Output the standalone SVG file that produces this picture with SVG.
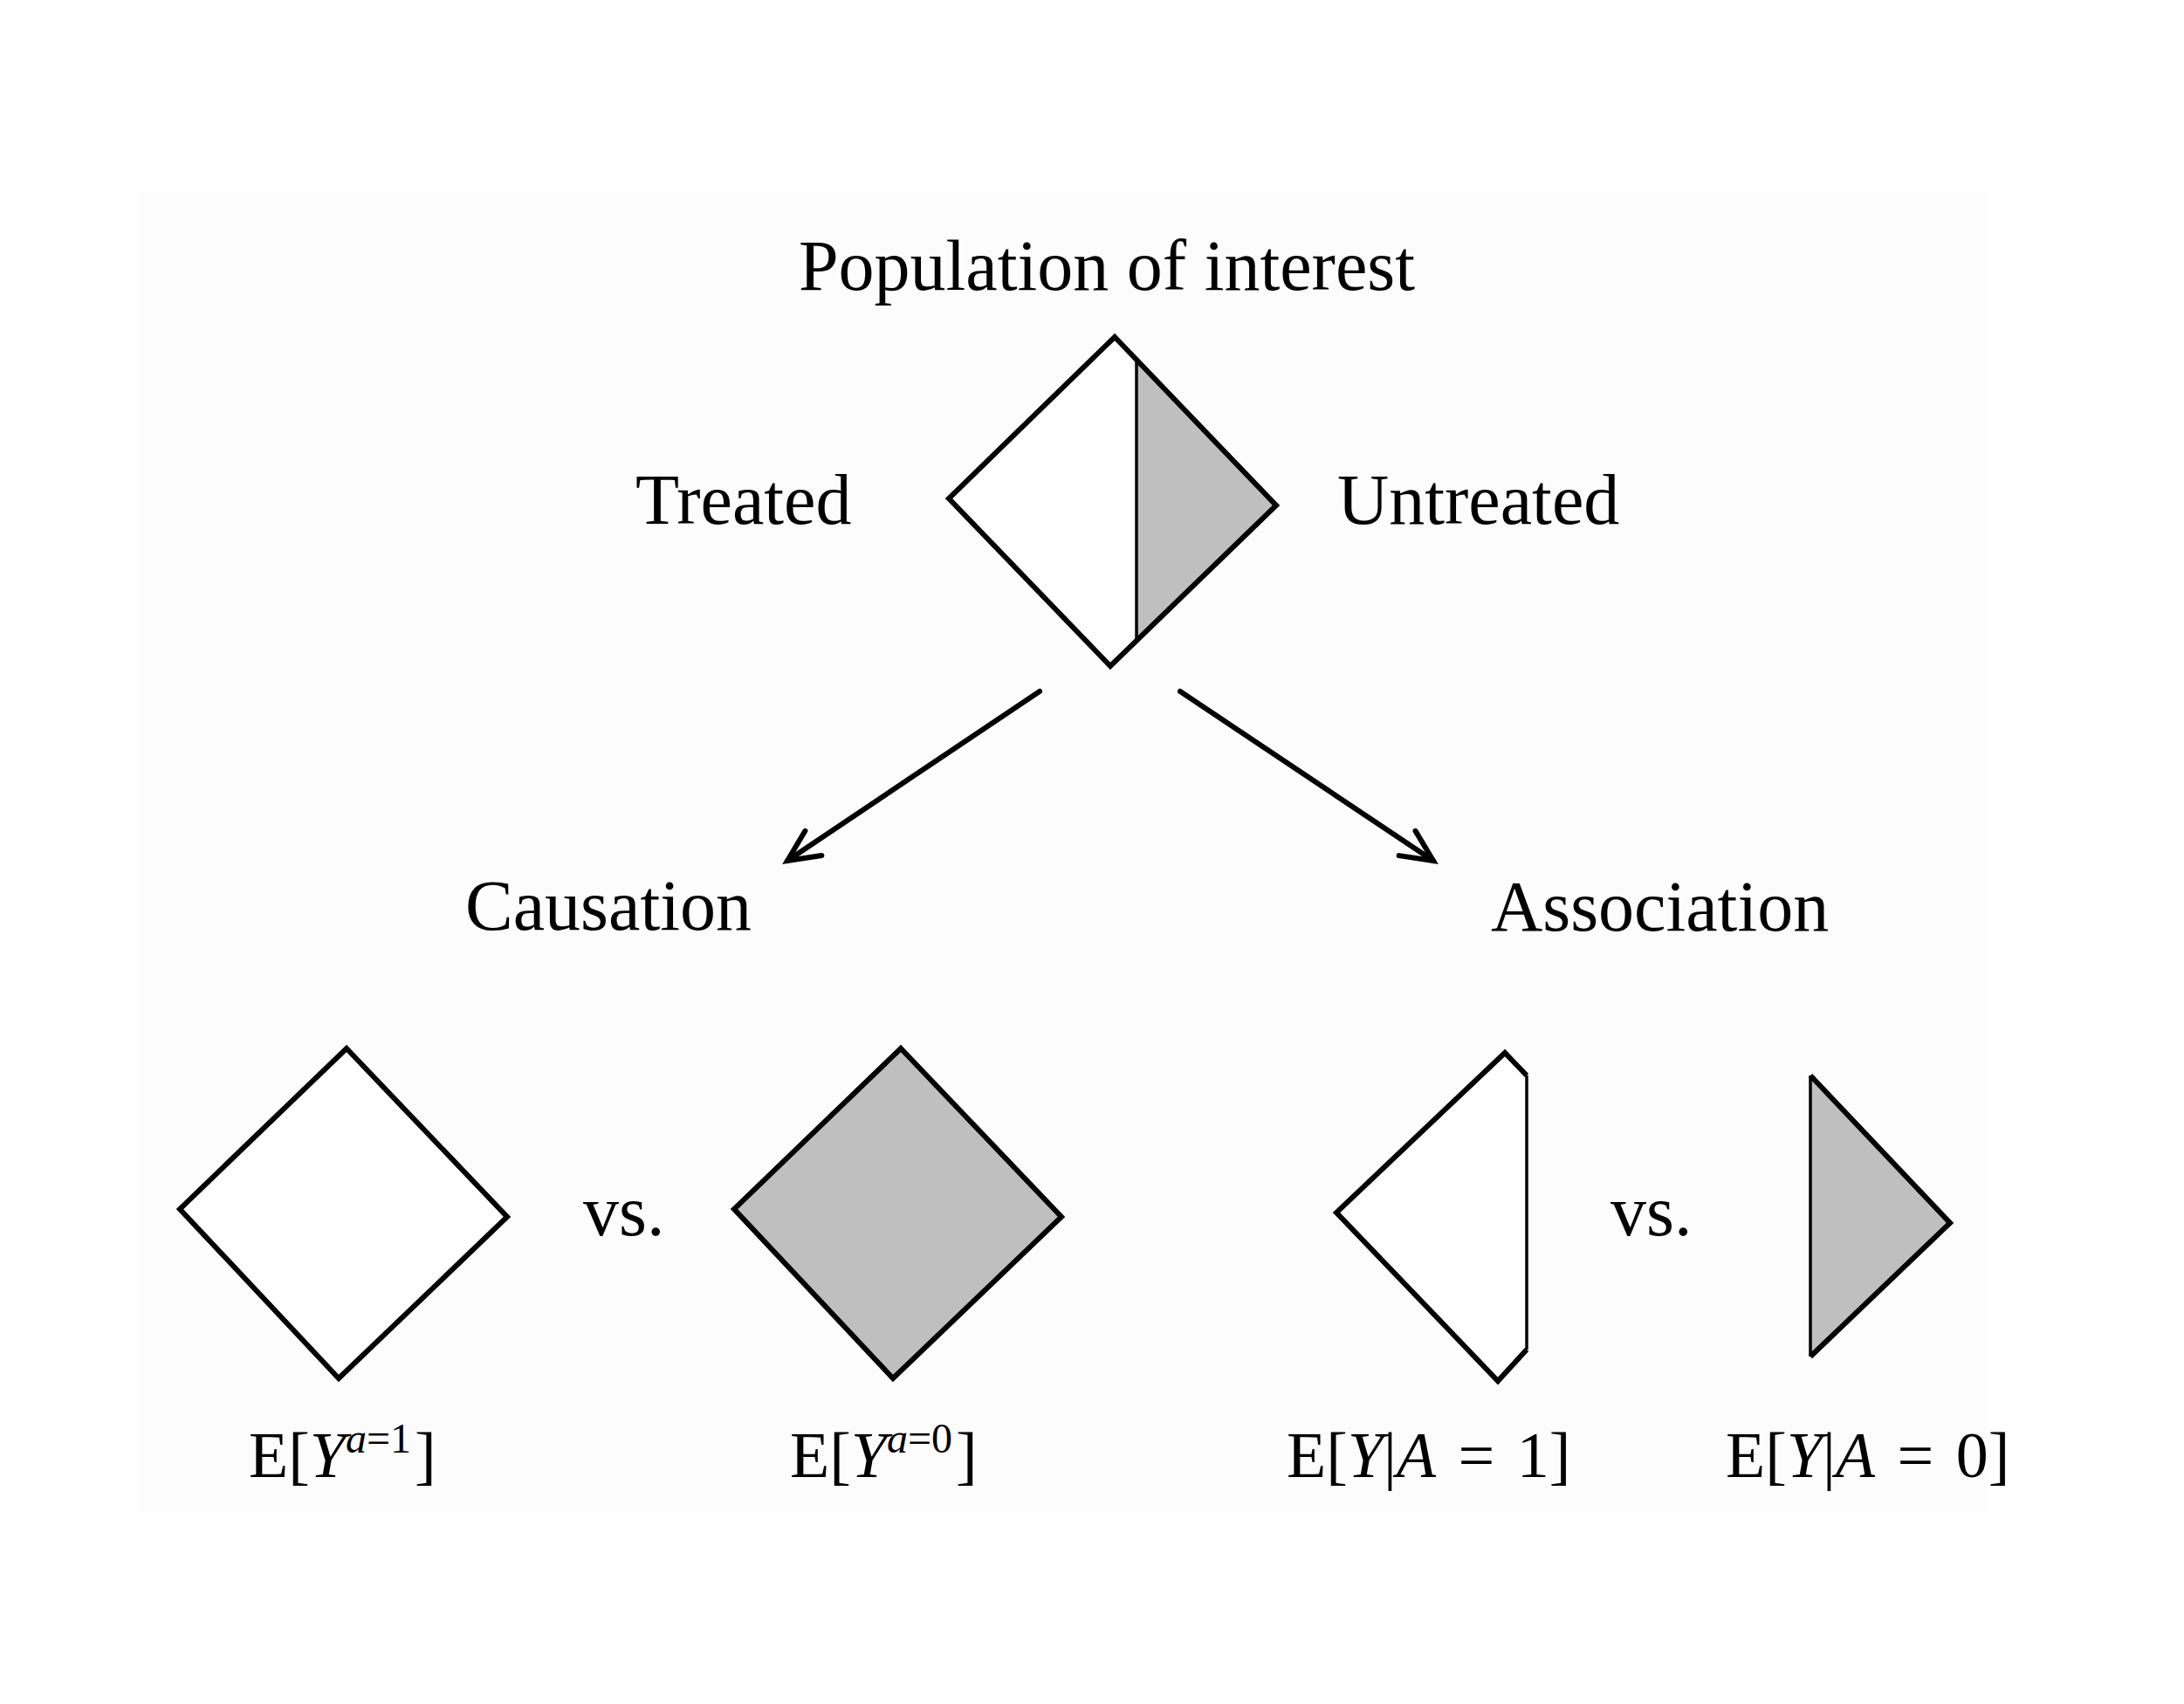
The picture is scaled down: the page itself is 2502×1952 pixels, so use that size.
<svg xmlns="http://www.w3.org/2000/svg" width="2502" height="1952" viewBox="0 0 2502 1952">
<style>
  text { font-family: "Liberation Serif", "Times New Roman", serif; fill: #000; }
  .lbl { font-size: 82px; }
  .math { font-size: 74px; }
  .sup { font-size: 48px; }
  .it { font-style: italic; }
  .edge { fill: none; stroke: #000; stroke-width: 6; stroke-linejoin: miter; }
  .thin { fill: none; stroke: #000; stroke-width: 3.5; }
  .white { fill: #fff; stroke: none; }
  .gray { fill: #bfbfbf; stroke: none; }
  .conn { fill: none; stroke: #000; stroke-width: 6; stroke-linecap: round; }
</style>
<defs>
  <marker id="arrow" markerUnits="userSpaceOnUse" viewBox="-44 -24 50 48" markerWidth="50" markerHeight="48" refX="0" refY="0" orient="auto" overflow="visible">
    <path d="M -36 -17 L 0 0 L -36 17" fill="none" stroke="#000" stroke-width="6" stroke-linecap="round" stroke-linejoin="miter"/>
  </marker>
</defs>
<rect x="0" y="0" width="2502" height="1952" fill="#fff"/>
<rect x="160" y="220" width="2115" height="1512" fill="#fcfcfc"/>

<g id="population">
  <polygon class="white" points="1277,386 1462,579 1272,763 1087,571"/>
  <polygon class="gray" points="1302,412 1462,579 1302,734"/>
  <line class="thin" x1="1302" y1="412" x2="1302" y2="734"/>
  <polygon class="edge" points="1277,386 1462,579 1272,763 1087,571"/>
  <text class="lbl" x="1268" y="332" text-anchor="middle">Population of interest</text>
</g>
<g id="treated">
  <text class="lbl" x="728" y="600">Treated</text>
</g>
<g id="untreated">
  <text class="lbl" x="1532" y="600">Untreated</text>
</g>

<g id="connectors">
  <line class="conn" x1="1191" y1="792" x2="902" y2="986" marker-end="url(#arrow)"/>
  <line class="conn" x1="1352" y1="792" x2="1642" y2="986" marker-end="url(#arrow)"/>
</g>

<g id="causation">
  <text class="lbl" x="533" y="1065">Causation</text>
</g>
<g id="association">
  <text class="lbl" x="1708" y="1066">Association</text>
</g>

<g id="treated-all">
  <polygon class="white" points="397,1201 581,1394 388,1579 206,1385"/>
  <polygon class="edge" points="397,1201 581,1394 388,1579 206,1385"/>
  <text class="math" x="285" y="1692">E[<tspan class="it">Y</tspan><tspan class="sup it" dy="-28">a</tspan><tspan class="sup">=1</tspan><tspan dy="28" dx="4">]</tspan></text>
</g>
<g id="vs-causal">
  <text class="lbl" x="668" y="1415">vs.</text>
</g>
<g id="untreated-all">
  <polygon class="gray" points="1032,1201 1216,1394 1023,1579 841,1385"/>
  <polygon class="edge" points="1032,1201 1216,1394 1023,1579 841,1385"/>
  <text class="math" x="905" y="1692">E[<tspan class="it">Y</tspan><tspan class="sup it" dy="-28">a</tspan><tspan class="sup">=0</tspan><tspan dy="28" dx="4">]</tspan></text>
</g>

<g id="treated-part">
  <polygon class="white" points="1724,1206 1749,1232 1749,1546 1716,1582 1531,1389"/>
  <line class="thin" x1="1749" y1="1232" x2="1749" y2="1546"/>
  <polyline class="edge" points="1749,1232 1724,1206 1531,1389 1716,1582 1749,1546"/>
  <text class="math" x="1474" y="1692" word-spacing="7">E[<tspan class="it">Y</tspan>|<tspan class="it">A</tspan> = 1]</text>
</g>
<g id="vs-assoc">
  <text class="lbl" x="1845" y="1415">vs.</text>
</g>
<g id="untreated-part">
  <polygon class="gray" points="2074,1232 2234,1401 2074,1554"/>
  <line class="thin" x1="2074" y1="1232" x2="2074" y2="1554"/>
  <polyline class="edge" points="2074,1232 2234,1401 2074,1554"/>
  <text class="math" x="1977" y="1692" word-spacing="7">E[<tspan class="it">Y</tspan>|<tspan class="it">A</tspan> = 0]</text>
</g>
</svg>
